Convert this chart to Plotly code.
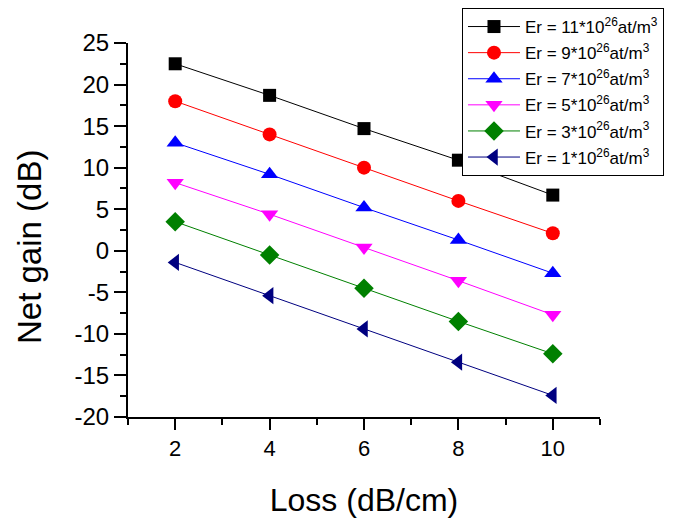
import plotly.graph_objects as go

loss = [2, 4, 6, 8, 10]
er11 = [22.5, 18.7, 14.7, 10.9, 6.7]
er9 = [18.0, 14.0, 10.0, 6.0, 2.1]
er7 = [13.0, 9.2, 5.2, 1.3, -2.7]
er5 = [8.2, 4.4, 0.4, -3.6, -7.7]
er3 = [3.5, -0.5, -4.5, -8.5, -12.4]
er1 = [-1.4, -5.4, -9.4, -13.4, -17.4]

x_ticks = [2, 4, 6, 8, 10]
y_ticks = [-20, -15, -10, -5, 0, 5, 10, 15, 20, 25]
y_ticktext = ["-20", "-15", "-10", "-5", "0", "5", "10", "15", "20", "25"]

names = [
    "Er = 11*10<sup>26</sup>at/m<sup>3</sup>",
    "Er = 9*10<sup>26</sup>at/m<sup>3</sup>",
    "Er = 7*10<sup>26</sup>at/m<sup>3</sup>",
    "Er = 5*10<sup>26</sup>at/m<sup>3</sup>",
    "Er = 3*10<sup>26</sup>at/m<sup>3</sup>",
    "Er = 1*10<sup>26</sup>at/m<sup>3</sup>",
]
series = [er11, er9, er7, er5, er3, er1]
colors = ["#000000", "#FF0000", "#0000FF", "#FF00FF", "#008000", "#000080"]
symbols = ["square", "circle", "triangle-up", "triangle-down", "diamond", "triangle-left"]
sizes = [13, 14, 15, 15, 15, 15]

fig = go.Figure()
for i, (name, ys, c, s, sz) in enumerate(zip(names, series, colors, symbols, sizes)):
    fig.add_trace(go.Scatter(
        x=loss, y=ys, name=name, mode="lines+markers", legendgroup=f"g{i}",
        line=dict(color=c, width=1),
        marker=dict(symbol=s, color=c, size=sz),
    ))

# page body has an 8px margin; plot area placed so that it lands at
# x 128..600 and y 43..417 on screen
fig.update_layout(
    width=686, height=519,
    margin=dict(l=120, r=94, t=35, b=110, autoexpand=False),
    plot_bgcolor="white", paper_bgcolor="white",
    font=dict(family="Liberation Sans, Arial, sans-serif", color="#000000"),
    showlegend=True,
    legend=dict(
        x=0.7076, y=1.0936, xanchor="left", yanchor="top",
        bordercolor="#000000", borderwidth=1, bgcolor="white",
        font=dict(size=17), tracegroupgap=1, itemwidth=52,
    ),
    xaxis=dict(
        range=[1, 11], tickvals=x_ticks,
        ticks="outside", ticklen=11, tickwidth=2, tickcolor="black",
        showline=True, linecolor="black", linewidth=2, showgrid=False, zeroline=False,
        minor=dict(tickvals=[1, 3, 5, 7, 9, 11], ticks="outside", ticklen=6, tickwidth=2, tickcolor="black"),
        tickfont=dict(size=22),
        title=dict(text="Loss (dB/cm)", font=dict(size=32), standoff=28),
        automargin=False,
    ),
    yaxis=dict(
        range=[-20, 25], tickvals=y_ticks, ticktext=y_ticktext,
        ticks="outside", ticklen=12, tickwidth=2, tickcolor="black",
        showline=True, linecolor="black", linewidth=2, showgrid=False, zeroline=False,
        minor=dict(dtick=2.5, ticks="outside", ticklen=6, tickwidth=2, tickcolor="black"),
        tickfont=dict(size=24),
        automargin=False,
    ),
    annotations=[dict(
        text="Net gain (dB)", textangle=-90, showarrow=False,
        xref="paper", yref="paper", x=-0.2097, y=0.4545,
        xanchor="center", yanchor="middle",
        font=dict(size=33),
    )],
)

fig.write_html("out.html")
